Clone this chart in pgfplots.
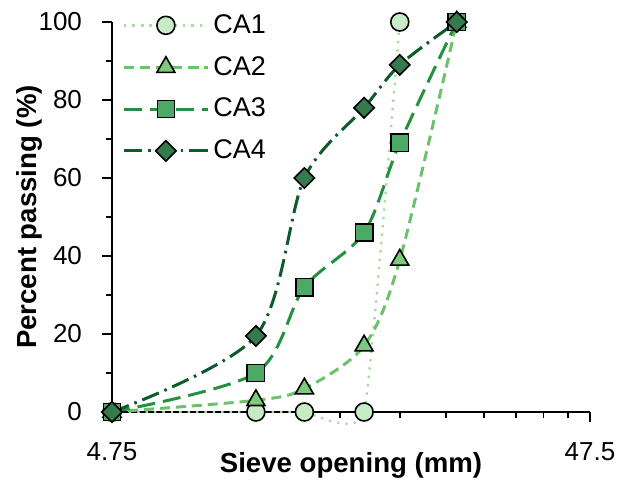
\documentclass[border=0pt]{standalone}
\usepackage{pgfplots}
\pgfplotsset{compat=1.18}
\usepackage{fontspec}
\setmainfont{Liberation Sans}
\usetikzlibrary{calc}
\definecolor{caOneFill}{HTML}{C6EBC5}
\definecolor{caOneLine}{HTML}{A8DCA4}
\definecolor{caTwoFill}{HTML}{7CCB7C}
\definecolor{caTwoLine}{HTML}{6BC26B}
\definecolor{caThreeFill}{HTML}{4DAA66}
\definecolor{caThreeLine}{HTML}{23913F}
\definecolor{caFourFill}{HTML}{357A4D}
\definecolor{caFourLine}{HTML}{0D5A2A}
\begin{document}
\begin{tikzpicture}
\begin{axis}[
  name=ax,
  scale only axis,
  width=239pt, height=195pt,
  xmode=log,
  xmin=4.75, xmax=47.5,
  ymin=0, ymax=100,
  xtick={4.75,47.5}, xticklabels={4.75,47.5},
  minor xtick={9.5,14.25,19,23.75,28.5,33.25,38,42.75},
  ytick={0,20,40,60,80,100},
  minor ytick={10,30,50,70,90},
  axis x line*=bottom, axis y line*=left,
  axis line style={line width=0.9pt},
  tick align=outside,
  major tick length=5pt, minor tick length=3pt,
  every tick/.style={black, line width=0.8pt},
  tick label style={font=\fontsize{13}{15}\selectfont},
  yticklabel style={xshift=-6.5pt},
  xticklabel style={yshift=-7pt},
  /pgf/number format/assume math mode=true,
  xlabel={\textbf{Sieve opening (mm)}},
  ylabel={\textbf{Percent passing (\%)}},
  label style={font=\fontsize{13.8}{15}\selectfont},
  xlabel style={at={(axis description cs:0.5,-0.1359)}, anchor=center},
  ylabel style={at={(axis description cs:-0.1736,0.5)}, anchor=center},
  clip=false,
  legend style={draw=none, fill=none, at={(0,1)}, anchor=north west,
                xshift=2pt, yshift=8pt,
                font=\fontsize{13.5}{15}\selectfont, row sep=6pt},
  legend cell align=left,
  legend image code/.code={
    \draw[mark repeat=2, mark phase=2, #1]
      plot coordinates {(0pt,0pt) (21pt,0pt) (42pt,0pt)};
  },
]
  \addplot[caOneLine, line width=1.2pt, dash pattern=on 1.2pt off 3pt,
           smooth, tension=0.25,
           mark=*, mark size=4.5pt,
           mark options={solid, fill=caOneFill, draw=black, line width=0.8pt}]
    coordinates {(4.75,0) (9.5,0) (12,0) (16,0) (19,100)};
  \addplot[caTwoLine, line width=1.5pt, dash pattern=on 5pt off 3pt, smooth,
           mark=triangle*, mark size=5.2pt,
           mark options={solid, fill=caTwoFill, draw=black, line width=0.8pt}]
    coordinates {(4.75,0) (9.5,3) (12,6) (16,17) (19,39) (25,100)};
  \addplot[caThreeLine, line width=1.5pt, dash pattern=on 9pt off 4pt, smooth,
           mark=square*, mark size=4.3pt,
           mark options={solid, fill=caThreeFill, draw=black, line width=0.8pt}]
    coordinates {(4.75,0) (9.5,10) (12,32) (16,46) (19,69) (25,100)};
  \addplot[caFourLine, line width=1.5pt,
           dash pattern=on 9pt off 3pt on 1.3pt off 3pt, smooth,
           mark=square*, mark size=3.6pt,
           mark options={solid, rotate=45, fill=caFourFill, draw=black, line width=0.8pt}]
    coordinates {(4.75,0) (9.5,19.5) (12,60) (16,78) (19,89) (25,100)};
  \legend{CA1, CA2, CA3, CA4}
\end{axis}
\path ($(ax.south west)+(-56pt,-36pt)$) rectangle ($(ax.north east)+(20pt,11pt)$);
\end{tikzpicture}
\end{document}
